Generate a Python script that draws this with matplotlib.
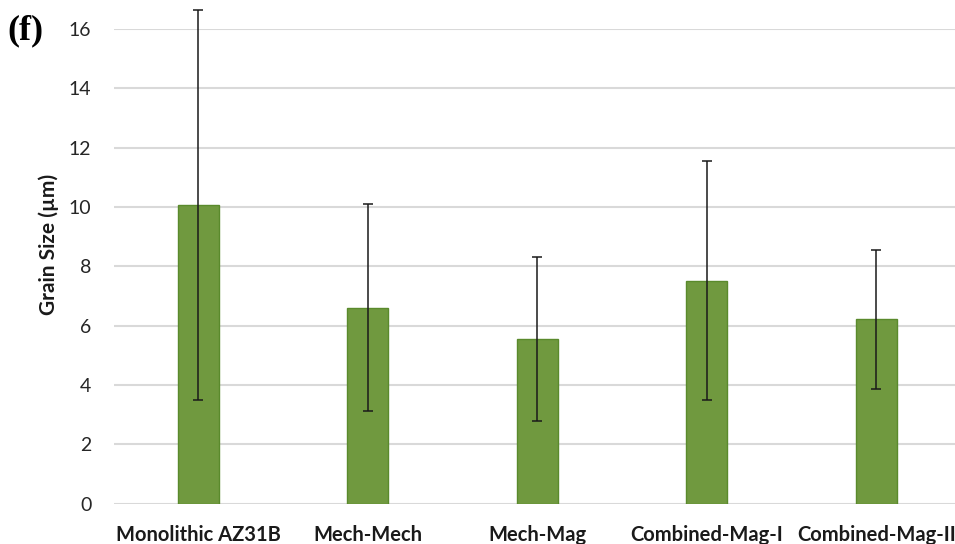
import matplotlib.pyplot as plt
import numpy as np

# data
samples = ['Monolithic AZ31B', 'Mech-Mech', 'Mech-Mag', 'Combined-Mag-I', 'Combined-Mag-II']
grain_size = [10.08, 6.61, 5.55, 7.52, 6.22]
grain_err = [6.57, 3.5, 2.76, 4.03, 2.34]
yticks = [0, 2, 4, 6, 8, 10, 12, 14, 16]

fig = plt.figure(figsize=(9.55, 5.44), dpi=100)
# plot area runs a bit past the right edge, like the cropped original
ax = fig.add_axes([113.5 / 955, 40.3 / 544, 847.5 / 955, 474.7 / 544])

x = np.arange(len(samples))
ax.bar(x, grain_size, width=0.24, color='#70993f', edgecolor='#5a8a2c', linewidth=1.0, zorder=3)
ax.errorbar(x, grain_size, yerr=grain_err, fmt='none', ecolor='#1a1a1a', elinewidth=1.1,
            capsize=3.5, capthick=1.1, zorder=4, clip_on=False)

ax.set_xlim(-0.5, len(samples) - 0.5)
ax.set_ylim(0, 16)
ax.set_yticks(yticks)
ax.set_xticks(x)
ax.set_xticklabels(samples, fontfamily='Lato', fontweight='bold', fontsize=14.5, color='#1a1a1a')
ax.set_yticklabels([str(t) for t in yticks], fontfamily='Lato', fontsize=14, color='#262626')
ax.tick_params(axis='x', length=0, pad=15)
ax.tick_params(axis='y', length=0, pad=16)

ax.grid(axis='y', color='#d9d9d9', linewidth=1.5, zorder=0)
for s in ax.spines.values():
    s.set_visible(False)

fig.text(49 / 955, 1 - 244 / 544, 'Grain Size (µm)', rotation=90, ha='center', va='center',
         fontfamily='Lato', fontweight='bold', fontsize=15, color='#1a1a1a')
fig.text(7 / 955, 1 - 31 / 544, '(f)', ha='left', va='center',
         fontfamily='Liberation Serif', fontweight='bold', fontsize=26, color='black')

fig.savefig('out.png', dpi=100)
